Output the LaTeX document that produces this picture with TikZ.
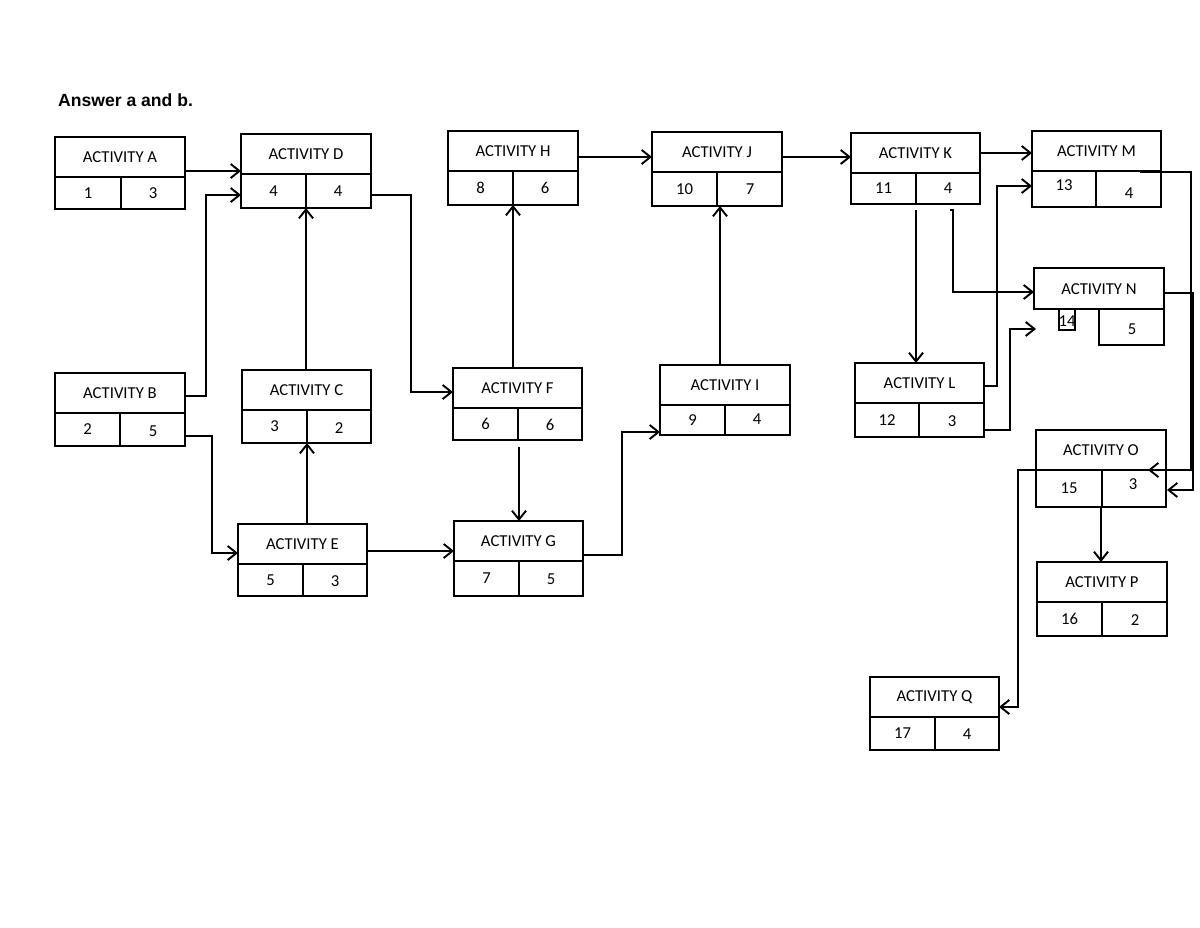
\documentclass[tikz,border=0pt]{standalone}
\usepackage{fontspec}
\setmainfont{Carlito}
\newfontfamily\titlefont{Liberation Sans}
\usetikzlibrary{arrows.meta}
\begin{document}
\begin{tikzpicture}[x=0.02cm,y=-0.02cm,
  box/.style={line width=1.3pt},
  con/.style={line width=1.1pt,-{Straight Barb[length=5pt,width=8pt,line width=1.1pt]}},
  lbl/.style={font=\fontsize{9.5}{11}\selectfont}]
\useasboundingbox (0,0) rectangle (1200,927);
% box macro: name, l,t,r,b, mid, div, title, v1, v2
\newcommand\actbox[9]{%
  \draw[box] (#2,#3) rectangle (#4,#5);
  \draw[box] (#2,#6) -- (#4,#6);
  \draw[box] (#7,#6) -- (#7,#5);
  \node[lbl] (#1t) at ({(#2+#4)/2},{(#3+#6)/2}) {#8};
  \node[lbl] (#1a) at ({(#2+#7)/2},{(#6+#5)/2}) {#9};
}
\newcommand\actval[4]{\node[lbl] (#1b) at ({(#2+#3)/2},#4) {};}
\node[anchor=west,font=\titlefont\bfseries\fontsize{10}{12}\selectfont] (title) at (52,100) {Answer a and b.};
\actbox{A}{55}{137}{185}{209}{177}{121}{ACTIVITY A}{1}
\node[lbl] at (153,193) {3};
\actbox{D}{241}{134}{371}{208}{174}{306}{ACTIVITY D}{4}
\node[lbl] at (338,191) {4};
\actbox{H}{448}{131}{578}{205}{171}{513}{ACTIVITY H}{8}
\node[lbl] at (545,188) {6};
\actbox{J}{652}{132}{782}{206}{172}{717}{ACTIVITY J}{10}
\node[lbl] at (750,189) {7};
\actbox{K}{851}{133}{980}{204}{173}{916}{ACTIVITY K}{11}
\node[lbl] at (948,188) {4};
\actbox{M}{1032}{131}{1161}{207}{171}{1096}{ACTIVITY M}{}
\node[lbl] at (1064,185) {13};
\node[lbl] at (1129,193) {4};
% N
\draw[box] (1034,268) rectangle (1164,309);
\node[lbl] (Nt) at (1099,289) {ACTIVITY N};
\draw[box] (1099,309) rectangle (1164,345);
\node[lbl] at (1132,329) {5};
\draw[line width=0.9pt] (1059,309) rectangle (1075,330);
\node[lbl,inner sep=0pt] at (1067,321) {14};
\actbox{B}{55}{373}{185}{446}{413}{120}{ACTIVITY B}{2}
\node[lbl] at (153,431) {5};
\actbox{C}{242}{370}{371}{443}{410}{307}{ACTIVITY C}{3}
\node[lbl] at (339,428) {2};
\actbox{F}{453}{368}{582}{440}{408}{518}{ACTIVITY F}{6}
\node[lbl] at (550,425) {6};
\actbox{I}{660}{365}{790}{435}{405}{725}{ACTIVITY I}{9}
\node[lbl] at (757,419) {4};
\actbox{L}{855}{363}{984}{437}{403}{919}{ACTIVITY L}{12}
\node[lbl] at (952,421) {3};
\actbox{E}{238}{524}{367}{596}{564}{303}{ACTIVITY E}{5}
\node[lbl] at (335,581) {3};
\actbox{G}{454}{521}{583}{596}{561}{519}{ACTIVITY G}{7}
\node[lbl] at (551,579) {5};
\actbox{O}{1036}{430}{1166}{507}{470}{1102}{ACTIVITY O}{15}
\node[lbl] at (1133,484) {3};
\actbox{P}{1037}{562}{1167}{636}{602}{1102}{ACTIVITY P}{16}
\node[lbl] at (1135,620) {2};
\actbox{Q}{870}{677}{999}{750}{717}{935}{ACTIVITY Q}{17}
\node[lbl] at (967,734) {4};
% connectors
\draw[con] (185,171) -- (241,171);
\draw[con] (185,396) -- (206,396) -- (206,195) -- (241,195);
\draw[con] (185,436) -- (212,436) -- (212,553) -- (238,553);
\draw[con] (371,195) -- (411,195) -- (411,392) -- (453,392);
\draw[con] (306,370) -- (306,208);
\draw[con] (307,524) -- (307,443);
\draw[con] (367,551) -- (454,551);
\draw[con] (513,368) -- (513,205);
\draw[con] (519,447) -- (519,521);
\draw[con] (583,555) -- (622,555) -- (622,432) -- (660,432);
\draw[con] (720,365) -- (720,206);
\draw[con] (578,157) -- (652,157);
\draw[con] (782,157) -- (851,157);
\draw[con] (980,153) -- (1032,153);
\draw[con] (916,210) -- (916,363);
\draw[con] (950,210) -- (953,210) -- (953,292) -- (1034,292);
\draw[con] (984,386) -- (997,386) -- (997,186) -- (1032,186);
\coordinate (nfree) at (1036,329);
\draw[con] (984,430) -- (1010,430) -- (1010,329) -- (nfree);
\draw[con] (1140,172) -- (1191,172) -- (1191,470) -- (1148,470);
\draw[con] (1164,293) -- (1193,293) -- (1193,490) -- (1167,490);
\draw[con] (1101,507) -- (1101,562);
\draw[con] (1036,470) -- (1018,470) -- (1018,707) -- (999,707);
\end{tikzpicture}
\end{document}
